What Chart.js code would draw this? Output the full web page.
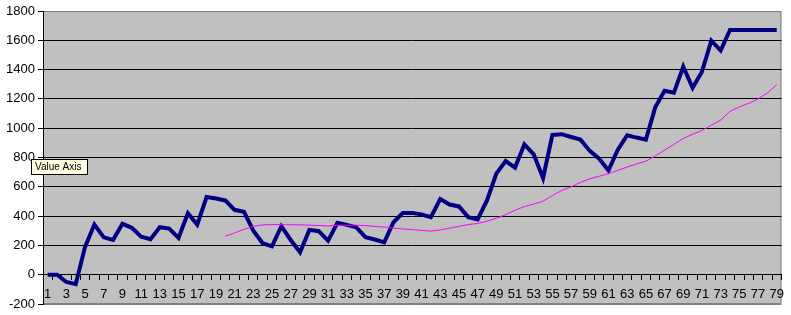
<!DOCTYPE html>
<html>
<head>
<meta charset="utf-8">
<script src="https://cdn.jsdelivr.net/npm/chart.js@4"></script>
<style>
    body { margin: 0; background: #ffffff; }
    #wrap { width: 791px; height: 315px; }
</style>
</head>
<body>
<div id="wrap"><canvas id="graph1" width="791" height="315"></canvas></div>
<script>
const categories = ['1','2','3','4','5','6','7','8','9','10','11','12','13','14','15','16','17','18','19','20',
    '21','22','23','24','25','26','27','28','29','30','31','32','33','34','35','36','37','38','39','40',
    '41','42','43','44','45','46','47','48','49','50','51','52','53','54','55','56','57','58','59','60',
    '61','62','63','64','65','66','67','68','69','70','71','72','73','74','75','76','77','78','79'];

const mainValues = [0, 0, -50, -65, 190, 342, 255, 238, 347, 320,
    260, 242, 324, 315, 251, 420, 342, 530, 520, 507,
    443, 429, 301, 215, 194, 331, 237, 153, 306, 297,
    233, 354, 340, 324, 256, 240, 221, 358, 422, 422,
    411, 393, 516, 479, 466, 393, 377, 507, 690, 776,
    731, 890, 822, 660, 954, 959, 940, 922, 845, 792,
    712, 854, 952, 936, 922, 1142, 1256, 1242, 1420, 1276,
    1386, 1598, 1530, 1671, 1671, 1671, 1671, 1671, 1671];

// average line only starts at point 20
const avgValues = [null, null, null, null, null, null, null, null, null, null,
    null, null, null, null, null, null, null, null, null, 262,
    285, 310, 330, 340, 342, 342, 341, 340, 338, 336,
    333, 338, 338, 338, 335, 330, 325, 318, 312, 308,
    302, 298, 305, 318, 330, 342, 350, 365, 385, 410,
    440, 465, 482, 502, 540, 575, 600, 630, 655, 672,
    690, 712, 735, 755, 775, 810, 850, 890, 930, 958,
    985, 1020, 1055, 1115, 1145, 1170, 1200, 1240, 1297];

const yTicks = [-200, 0, 200, 400, 600, 800, 1000, 1200, 1400, 1600, 1800];

const plotBg = {
    id: 'plotBg',
    beforeDraw(chart) {
        const {ctx, chartArea: a} = chart;
        ctx.save();
        ctx.fillStyle = '#c0c0c0';
        ctx.fillRect(a.left, a.top, a.right - a.left, a.bottom - a.top);
        ctx.strokeStyle = '#808080';
        ctx.lineWidth = 1;
        ctx.strokeRect(a.left + 0.5, a.top + 0.5, a.right - a.left - 1, a.bottom - a.top - 1);
        ctx.restore();
    }
};

const hoverNote = {
    id: 'hoverNote',
    afterDraw(chart) {
        const ctx = chart.ctx;
        ctx.save();
        ctx.fillStyle = '#ffffe1';
        ctx.fillRect(31, 159, 56, 15);
        ctx.strokeStyle = '#000000';
        ctx.lineWidth = 1;
        ctx.strokeRect(31.5, 159.5, 56, 15);
        ctx.fillStyle = '#000000';
        ctx.font = '10px "Liberation Sans", Arial, sans-serif';
        ctx.textBaseline = 'middle';
        ctx.fillText('Value Axis', 35, 167.5);
        ctx.restore();
    }
};

const chart1 = document.getElementById('graph1').getContext('2d');
const myChart1 = new Chart(chart1, {
    type: 'line',
    data: {
        labels: categories,
        datasets: [{
            data: mainValues,
            borderColor: '#000080',
            borderWidth: 4,
            pointRadius: 0,
            tension: 0,
            order: 1
        }, {
            data: avgValues,
            borderColor: '#ff00ff',
            borderWidth: 1,
            pointRadius: 0,
            tension: 0,
            spanGaps: false,
            order: 0
        }]
    },
    plugins: [plotBg, hoverNote],
    options: {
        responsive: false,
        animation: false,
        layout: {
            padding: { top: 11, right: 5, bottom: 11, left: 0 }
        },
        scales: {
            x: {
                position: { y: 0 },
                offset: true,
                grid: {
                    offset: true,
                    drawOnChartArea: false,
                    drawTicks: true,
                    tickLength: 5,
                    color: '#000000'
                },
                border: { display: true, color: '#000000', width: 1 },
                ticks: {
                    autoSkip: false,
                    maxRotation: 0,
                    padding: 7,
                    color: '#000000',
                    font: { family: '"Liberation Sans", Arial, sans-serif', size: 13 },
                    callback: function (val, i) {
                        return i % 2 === 0 ? categories[i] : '';
                    }
                }
            },
            y: {
                min: yTicks[0],
                max: yTicks[yTicks.length - 1],
                afterFit: function (scale) { scale.width = 43; },
                afterBuildTicks: function (scale) {
                    scale.ticks = yTicks.map(v => ({ value: v }));
                },
                grid: {
                    color: function (c) {
                        const v = c.tick ? c.tick.value : 0;
                        return (v === yTicks[0] || v === yTicks[yTicks.length - 1]) ? '#808080' : '#000000';
                    },
                    tickColor: '#000000',
                    tickLength: 5
                },
                border: { display: true, color: '#000000', width: 1 },
                ticks: {
                    padding: 3,
                    color: '#000000',
                    font: { family: '"Liberation Sans", Arial, sans-serif', size: 13 },
                    callback: function (v) { return String(v); }
                }
            }
        },
        plugins: {
            legend: { display: false },
            tooltip: { enabled: false },
            title: { display: false }
        }
    }
});
</script>
</body>
</html>
